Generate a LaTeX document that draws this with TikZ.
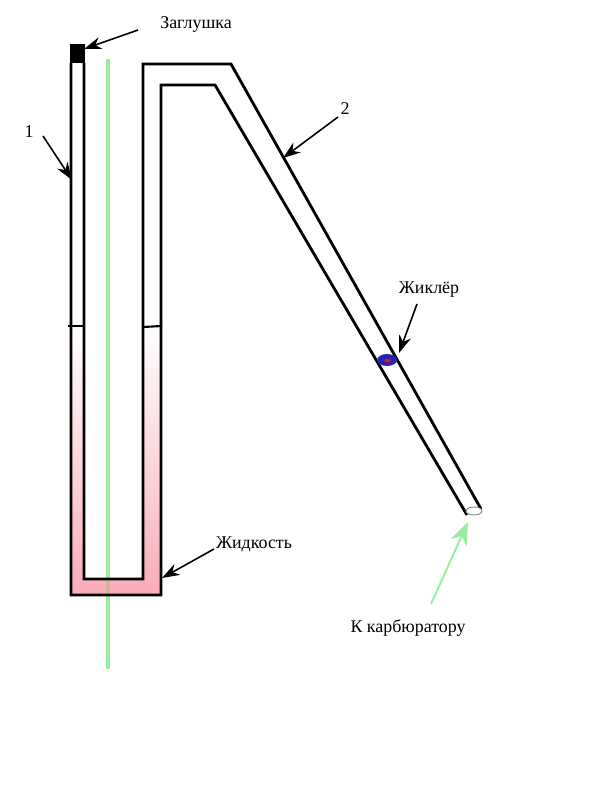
\documentclass[tikz,border=0pt]{standalone}
\usepackage{fontspec}
\setmainfont{Liberation Serif}
\usetikzlibrary{arrows.meta}
\definecolor{liquidpink}{RGB}{250,172,184}
\definecolor{probegreen}{RGB}{152,238,160}
\definecolor{probetan}{RGB}{214,178,156}
\pgfdeclareradialshading{jetball}{\pgfpoint{0bp}{0bp}}{
    color(0bp)=(rgb:red,0.98;green,0.55;blue,0.1);
    color(5bp)=(rgb:red,0.9;green,0.1;blue,0.2);
    color(12bp)=(rgb:red,0.1;green,0.1;blue,0.65);
    color(25bp)=(rgb:red,0.1;green,0.1;blue,0.4);
    color(50bp)=(rgb:red,0.1;green,0.1;blue,0.4)}
\begin{document}
\begin{tikzpicture}[
    x=0.02cm,
    y=-0.02cm,
    tube/.style={draw, line width=1.6pt, line join=miter},
    level/.style={draw, line width=1.2pt},
    pointer/.style={-{Stealth[length=10pt,width=7pt]}, line width=0.9pt},
    greenpointer/.style={-{Stealth[length=13pt,width=10pt]}, line width=1.1pt, probegreen},
    label/.style={font=\fontsize{10.2pt}{12pt}\selectfont, inner sep=0pt}
]
\useasboundingbox (0,0) rectangle (600,800);

% === Liquid ===
\fill[top color=white, bottom color=liquidpink]
    (71,326) -- (71,595) -- (161,595) -- (161,326) -- (143,326)
    -- (143,579) -- (84,579) -- (84,326) -- cycle;

% === Green rod ===
\draw[line width=2.8pt, probegreen] (108,59) -- (108,669);
\draw[line width=2.8pt, probetan] (108,581) -- (108,595);

% === Tube ===
\draw[tube] (71,63) -- (71,595) -- (161,595) -- (161,85) -- (215,85) -- (467,515);
\draw[tube] (84,63) -- (84,579) -- (143,579) -- (143,64) -- (231,64) -- (481,509);

% === Plug, levels, open end ===
\fill[black] (70,44) rectangle (85,63);
\draw[level] (68,326) -- (84,326);
\draw[level] (143,327) -- (162,326);
\draw[gray, line width=0.5pt, fill=white] (474,511) ellipse (8 and 4);

% === Jet ===
\shade[shading=jetball] (387,360) ellipse (10 and 6);

% === Labels ===
\node[label] (plug) at (196,25) {Заглушка};
\node[label] (one) at (29,132) {1};
\node[label] (two) at (345,109) {2};
\node[label] (jet) at (429,290) {Жиклёр};
\node[label] (liquid) at (254,544) {Жидкость};
\node[label] (carb) at (408,628) {К карбюратору};

% === Arrow ends ===
\coordinate (plugfrom) at (138,30);
\coordinate (plugto) at (84,49);
\coordinate (onefrom) at (43,136);
\coordinate (oneto) at (72,180);
\coordinate (twofrom) at (338,117);
\coordinate (twoto) at (283,158);
\coordinate (jetfrom) at (417,304);
\coordinate (jetto) at (399,353);
\coordinate (liquidfrom) at (214,549);
\coordinate (liquidto) at (162,578);
\coordinate (carbfrom) at (431,604);
\coordinate (carbto) at (468,522);

% === Arrows ===
\draw[pointer] (plugfrom) -- (plugto);
\draw[pointer] (onefrom) -- (oneto);
\draw[pointer] (twofrom) -- (twoto);
\draw[pointer] (jetfrom) -- (jetto);
\draw[pointer] (liquidfrom) -- (liquidto);
\draw[greenpointer] (carbfrom) -- (carbto);

\end{tikzpicture}
\end{document}
